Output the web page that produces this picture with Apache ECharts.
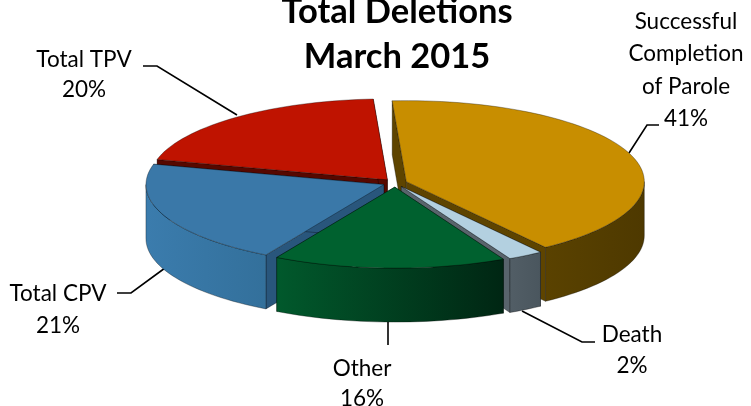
<!DOCTYPE html>
<html>
<head>
<meta charset="utf-8">
<title>Total Deletions March 2015</title>
<script src="https://cdn.jsdelivr.net/npm/echarts@6/dist/echarts.min.js"></script>
<style>
html, body { margin: 0; padding: 0; background: #fff; }
#chart { width: 751px; height: 406px; }
</style>
</head>
<body>
<div id="chart"></div>
<script>
// chart values, clockwise from the back of the pie (labels show them rounded)
const names = ['Successful\nCompletion\nof Parole', 'Death', 'Other', 'Total CPV', 'Total TPV'];
const values = [41.0, 2.4, 15.8, 20.8, 20.0];

// colours per slice: top, cut face, wall gradient left / right
const topColors = ['#c88e00', '#b3d0e0', '#00612f', '#3a78a8', '#bf1300'];
const cutColors = ['#5e4400', '#59646c', '#003a1c', '#29567c', '#560800'];
const wallLeft = ['#5a4200', '#525e66', '#01592c', '#3b7cad', '#560800'];
const wallRight = ['#4e3900', '#4a565e', '#002613', '#33709b', '#560800'];

// label places and leader lines
const labelX = [686, 632, 362, 58, 84];
const labelY = [5, 319, 354, 278, 45];
const labelLineHeight = [32.5, 31, 30, 32, 30];
const leaders = [
    [[659, 125], [647, 125], [629, 153]],
    [[522, 311], [582, 342], [595, 342]],
    [[388, 322], [388, 345]],
    [[117, 293], [131, 293], [165, 268]],
    [[143, 66], [157, 66], [237, 115]]
];

// pie shape
const cx = 395, cy = 183, rx = 238, ry = 81, depth = 54, burst = 12, startAngle = -3.4;

const total = values.reduce((a, b) => a + b, 0);
let acc = startAngle;
const slices = values.map((v, i) => {
    const a0 = acc;
    acc += v / total * 360;
    return { index: i, a0: a0, a1: acc, mid: (a0 + acc) / 2 };
});
const rad = d => d * Math.PI / 180;

// back slices are painted first
const drawOrder = slices.slice().sort((a, b) => Math.cos(rad(b.mid)) - Math.cos(rad(a.mid)));

function renderSlice(params, api) {
    const s = drawOrder[api.value(0)];
    const i = s.index;
    const ax = cx + burst * Math.sin(rad(s.mid));
    const ay = cy - burst * Math.cos(rad(s.mid)) * ry / rx;
    const pt = (d, down) => [ax + rx * Math.sin(rad(d)), ay - ry * Math.cos(rad(d)) + (down || 0)];
    const arc = (from, to, down) => {
        const pts = [];
        const steps = Math.max(2, Math.ceil((to - from) / 2));
        for (let k = 0; k <= steps; k++) pts.push(pt(from + (to - from) * k / steps, down));
        return pts;
    };
    const edge = { stroke: 'rgba(0,0,0,0.45)', lineWidth: 0.7 };
    const children = [];
    const face = (points, fill) => children.push({
        type: 'polygon',
        shape: { points: points },
        style: Object.assign({ fill: fill }, edge)
    });
    // cut faces
    [s.a0, s.a1].forEach(d => {
        const p = pt(d);
        face([[ax, ay], p, [p[0], p[1] + depth], [ax, ay + depth]], cutColors[i]);
    });
    // outer wall, only the front half of the rim shows
    const w0 = Math.max(s.a0, 90), w1 = Math.min(s.a1, 270);
    if (w1 > w0) {
        face(arc(w0, w1, 0).concat(arc(w0, w1, depth).reverse()), new echarts.graphic.LinearGradient(0, 0, 1, 0, [
            { offset: 0, color: wallLeft[i] },
            { offset: 1, color: wallRight[i] }
        ]));
    }
    // top
    face([[ax, ay]].concat(arc(s.a0, s.a1, 0)), topColors[i]);
    return { type: 'group', children: children };
}

const labelFont = { fontFamily: 'Lato', fontSize: 22.5, fill: '#000', align: 'center', verticalAlign: 'top' };
const graphics = [];
names.forEach((n, i) => {
    graphics.push({
        type: 'text',
        x: labelX[i],
        y: labelY[i],
        style: Object.assign({ text: n + '\n' + Math.round(values[i]) + '%', lineHeight: labelLineHeight[i] }, labelFont)
    });
    graphics.push({
        type: 'polyline',
        shape: { points: leaders[i] },
        style: { stroke: '#000', lineWidth: 1.6, fill: null }
    });
});

const chart = echarts.init(document.getElementById('chart'), null, { renderer: 'canvas' });
chart.setOption({
    backgroundColor: '#fff',
    animation: false,
    title: {
        text: 'Total Deletions\nMarch 2015',
        left: 392,
        top: -16,
        textAlign: 'center',
        textStyle: { fontFamily: 'Lato', fontWeight: 'bold', fontSize: 34.5, lineHeight: 45, color: '#000' }
    },
    graphic: graphics,
    series: [{
        type: 'custom',
        coordinateSystem: 'none',
        silent: true,
        renderItem: renderSlice,
        data: drawOrder.map((s, i) => [i, values[s.index]])
    }]
});
</script>
</body>
</html>
